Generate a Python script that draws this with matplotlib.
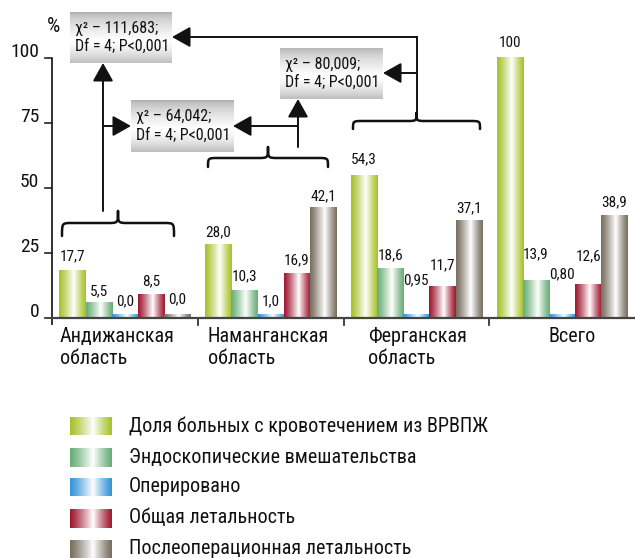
import numpy as np
import matplotlib
matplotlib.use("Agg")
import matplotlib.pyplot as plt
from matplotlib import font_manager
from matplotlib.colors import to_rgb
from matplotlib.patches import FancyArrowPatch, PathPatch
from matplotlib.path import Path

# ---------------- data ----------------
categories = ["Андижанская\nобласть", "Наманганская\nобласть", "Ферганская\nобласть", "Всего"]
series_names = [
    "Доля больных с кровотечением из ВРВПЖ",
    "Эндоскопические вмешательства",
    "Оперировано",
    "Общая летальность",
    "Послеоперационная летальность",
]
bleeding = [17.7, 28.0, 54.3, 100.0]
endoscopic = [5.5, 10.3, 18.6, 13.9]
operated = [0.0, 1.0, 0.95, 0.80]
total_mort = [8.5, 16.9, 11.7, 12.6]
postop_mort = [0.0, 42.1, 37.1, 38.9]
value_labels = [
    ["17,7", "28,0", "54,3", "100"],
    ["5,5", "10,3", "18,6", "13,9"],
    ["0,0", "1,0", "0,95", "0,80"],
    ["8,5", "16,9", "11,7", "12,6"],
    ["0,0", "42,1", "37,1", "38,9"],
]
yticks = [0, 25, 50, 75, 100]
stats = ["χ² – 111,683;\nDf = 4; P<0,001",
         "χ² – 64,042;\nDf = 4; P<0,001",
         "χ² – 80,009;\nDf = 4; P<0,001"]

series = [bleeding, endoscopic, operated, total_mort, postop_mort]
colors = ["#a8c22c", "#6aae78", "#3596d8", "#a01a30", "#7a7062"]

# ---------------- fonts ----------------
avail = {f.name for f in font_manager.fontManager.ttflist}
for cand in ["Liberation Sans Narrow", "DejaVu Sans Condensed", "Roboto Condensed", "Liberation Sans"]:
    if cand in avail:
        FONT = cand
        break
else:
    FONT = "DejaVu Sans"
plt.rcParams["font.family"] = [FONT, "DejaVu Sans"]

W, H = 635, 558
fig = plt.figure(figsize=(W / 100, H / 100), dpi=100)

x_left, x_right = 52, 635
y_zero = 317.5
ppu = 2.6  # pixels per unit
ax = fig.add_axes([x_left / W, (H - y_zero) / H, (x_right - x_left) / W, y_zero / H])
ax.set_xlim(0, 4)
ax.set_ylim(0, y_zero / ppu)
ax.set_autoscale_on(False)
ax.axis("off")

def fx(px):
    return px / W

def fy(py):
    return 1 - py / H

def grad_img(color, n=64):
    c = np.array(to_rgb(color))
    t = np.linspace(0, 1, n)
    w = np.where(t < 0.55, t / 0.55, (1 - t) / 0.45)
    w = np.clip(w, 0, 1) ** 1.2
    img = c[None, :] * (1 - w[:, None]) + np.ones(3)[None, :] * w[:, None]
    return img[None, :, :]

bar_w = 0.1795
n_ser = len(series)
min_h = 0.9
label_pad = [
    [3.0, 2.2, 3.8, 2.9],
    [2.0, 3.0, 2.7, 7.8],
    [2.7, 2.6, 10.7, 12.9],
    [2.8, 2.5, 5.8, 8.4],
    [3.6, 2.0, 2.3, 2.8],
]
for si, vals in enumerate(series):
    for ci, v in enumerate(vals):
        xc = ci + 0.5 + (si - (n_ser - 1) / 2) * bar_w
        h = max(v, min_h)
        ax.imshow(grad_img(colors[si]), extent=[xc - bar_w / 2, xc + bar_w / 2, 0, h],
                  aspect="auto", interpolation="bilinear", zorder=2, clip_on=False)
        ax.text(xc, h + label_pad[si][ci], value_labels[si][ci], ha="center", va="bottom",
                fontsize=11, color="#111111", clip_on=False)
ax.set_xlim(0, 4)
ax.set_ylim(0, y_zero / ppu)

# axes lines
ax.plot([0, 0], [-3, 100], color="#222222", lw=1.3, clip_on=False, solid_capstyle="butt")
ax.plot([0, 4], [0, 0], color="#444444", lw=1.6, clip_on=False, zorder=3)
for t in yticks:
    ax.plot([-7 / 146, 0], [t, t], color="#222222", lw=1.2, clip_on=False)
    ax.text(-13 / 146, t + 2.3, str(t), ha="right", va="center", fontsize=14, color="#111111")
for b in [1, 2, 3]:
    ax.plot([b, b], [0, -3], color="#222222", lw=1.2, clip_on=False)
fig.text(fx(53), fy(26), "%", ha="center", va="center", fontsize=15, color="#111111")

# category labels
cat_x = [0.055, 1.068, 2.171, 3.404]
for ci, lab in enumerate(categories):
    ax.text(cat_x[ci], -3.8, lab, ha="left", va="top", fontsize=14.5, color="#111111",
            linespacing=1.15, clip_on=False)

# legend
leg_y = [426, 457, 487, 518, 549]
for si, name in enumerate(series_names):
    lax = fig.add_axes([fx(70), fy(leg_y[si] + 9.5), 42 / W, 19 / H])
    lax.imshow(grad_img(colors[si]), aspect="auto", interpolation="bilinear")
    lax.axis("off")
    fig.text(fx(129), fy(leg_y[si]), name, ha="left", va="center", fontsize=14.5, color="#111111")

# annotation boxes (pixel coords)
boxes = [(70, 12, 172, 63), (131, 100, 233, 152), (280, 48, 383, 99)]
box_grad = np.linspace(0, 1, 64)
gcol = np.where(box_grad < 0.55, 0.68 + (1 - 0.68) * (box_grad / 0.55) ** 0.6,
                1 - (1 - 0.75) * ((box_grad - 0.55) / 0.45) ** 1.5)
gimg = np.repeat(gcol[:, None, None], 3, axis=2)
for bi, (x0, y0, x1, y1) in enumerate(boxes):
    bax = fig.add_axes([fx(x0), fy(y1), (x1 - x0) / W, (y1 - y0) / H])
    bax.imshow(gimg, aspect="auto", interpolation="bilinear", extent=[0, 1, 0, 1])
    bax.set_xlim(0, 1)
    bax.set_ylim(0, 1)
    bax.axis("off")
    fig.text(fx(x0 + 5), fy((y0 + y1) / 2), stats[bi], ha="left", va="center",
             fontsize=11.5, color="#111111", linespacing=1.25, zorder=5)

# braces
def brace(x0, x1, y_end, y_mid, y_tip):
    xm = (x0 + x1) / 2
    r = 10
    verts = [(x0, y_end),
             (x0, y_mid), (x0, y_mid), (x0 + r, y_mid),
             (xm - r, y_mid),
             (xm, y_mid), (xm, y_mid), (xm, y_tip),
             (xm, y_mid), (xm, y_mid), (xm + r, y_mid),
             (x1 - r, y_mid),
             (x1, y_mid), (x1, y_mid), (x1, y_end)]
    codes = [Path.MOVETO,
             Path.CURVE4, Path.CURVE4, Path.CURVE4,
             Path.LINETO,
             Path.CURVE4, Path.CURVE4, Path.CURVE4,
             Path.CURVE4, Path.CURVE4, Path.CURVE4,
             Path.LINETO,
             Path.CURVE4, Path.CURVE4, Path.CURVE4]
    v = [(fx(a), fy(b)) for a, b in verts]
    p = PathPatch(Path(v, codes), transform=fig.transFigure, fill=False,
                  edgecolor="#111111", lw=1.8, capstyle="round", joinstyle="round")
    fig.add_artist(p)

brace(62, 174, 236, 223, 211)
brace(208, 328, 167, 158, 147)
brace(353, 480, 129, 121, 113)

def seg(points, arrow=False):
    xs = [fx(p[0]) for p in points]
    ys = [fy(p[1]) for p in points]
    if arrow:
        a = FancyArrowPatch((xs[0], ys[0]), (xs[1], ys[1]), transform=fig.transFigure,
                            arrowstyle="-|>,head_length=0.8,head_width=0.45", mutation_scale=14,
                            color="#111111", lw=1.4, shrinkA=0, shrinkB=0)
        fig.add_artist(a)
    else:
        fig.add_artist(plt.Line2D(xs, ys, transform=fig.transFigure, color="#111111", lw=1.4))

seg([(103, 211), (103, 63)], arrow=True)
seg([(103, 126), (131, 126)], arrow=True)
seg([(298, 147), (298, 99)], arrow=True)
seg([(298, 126), (233, 126)], arrow=True)
seg([(417, 113), (417, 37)])
seg([(417, 37), (172, 37)], arrow=True)
seg([(417, 73), (383, 73)], arrow=True)

fig.savefig("out.png", dpi=100)
